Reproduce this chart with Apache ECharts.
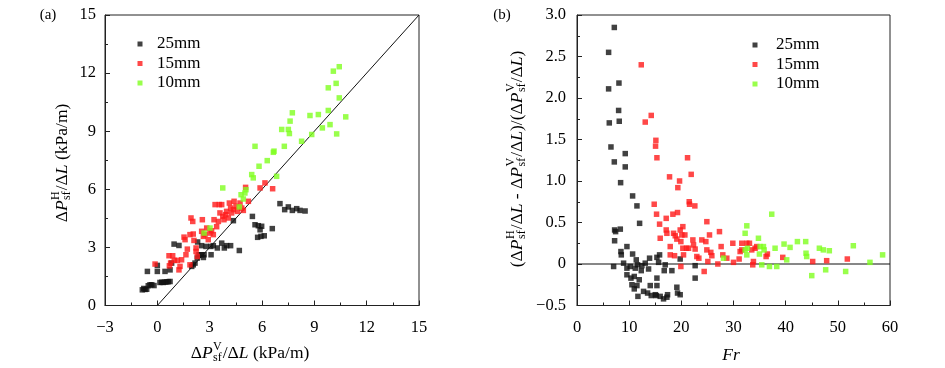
<!DOCTYPE html>
<html><head><meta charset="utf-8">
<script src="https://cdn.jsdelivr.net/npm/echarts@6/dist/echarts.min.js"></script>
<style>html,body{margin:0;padding:0;background:#fff}#c{width:945px;height:368px}</style>
</head><body><div id="c"></div>
<script>
// ---- Data ----
const seriesNames = ['25mm', '15mm', '10mm'];
const ticksA = { xMin: -3, xMax: 15, xStep: 3, yMin: 0, yMax: 15, yStep: 3 };
const ticksB = { xMin: 0, xMax: 60, xStep: 10, yMin: -0.5, yMax: 3.0, yStep: 0.5 };
const diagLine = [[0, 0], [15, 15]];
const zeroLine = [[0, 0], [60, 0]];

const a25 = [[-0.86,0.81],[-0.78,0.88],[-0.7,0.83],[-0.61,0.84],[-0.52,1.02],[-0.42,1.07],[-0.32,1.07],[-0.19,1.03],[0.15,1.19],[0.25,1.2],[0.34,1.19],[0.44,1.21],[0.54,1.22],[0.63,1.23],[0.73,1.24],[-0.57,1.76],[0,1.76],[0,2.07],[0.44,1.76],[0.73,1.84],[0.82,2.19],[0.96,3.17],[1.24,3.10],[1.97,2.02],[2.06,2.10],[2.16,2.19],[2.29,2.45],[2.39,2.62],[2.54,2.62],[2.64,2.48],[2.68,2.62],[2.31,3.28],[2.54,3.09],[2.79,3.05],[3.06,3.05],[3.08,2.62],[3.21,3.09],[3.44,2.97],[3.69,3.22],[3.84,2.97],[3.97,3.09],[4.20,3.09],[4.36,4.38],[4.70,2.84],[5.45,4.60],[5.60,4.17],[5.79,4.12],[5.89,3.91],[5.98,4.09],[5.75,3.52],[5.94,3.57],[6.13,3.60],[6.59,3.97],[7.03,5.26],[7.30,4.95],[7.51,5.09],[7.74,4.91],[7.99,5.00],[8.18,4.91],[8.47,4.88]];
const a15 = [[-0.13,2.14],[0.67,2.57],[0.88,2.57],[0.76,2.19],[0.69,2.05],[0.97,2.33],[1.15,2.33],[1.24,1.84],[1.30,2.02],[1.39,2.36],[1.53,3.53],[1.59,3.40],[1.64,2.62],[1.72,2.91],[1.87,2.10],[1.93,4.52],[2.03,4.34],[1.87,3.66],[2.06,3.69],[2.10,3.36],[2.22,2.79],[2.22,2.97],[2.29,2.53],[2.54,3.83],[2.58,4.43],[2.64,3.57],[2.73,3.66],[2.83,4.00],[2.92,3.40],[3.02,3.74],[3.11,3.86],[3.21,3.66],[3.25,4.43],[3.31,5.21],[3.40,4.07],[3.50,4.34],[3.55,5.21],[3.69,5.21],[3.59,4.78],[3.75,4.60],[3.82,4.43],[3.92,4.69],[3.97,4.86],[4.07,4.52],[4.13,5.29],[4.20,5.03],[4.26,4.78],[4.40,5.38],[4.36,4.95],[4.51,5.12],[4.59,4.86],[4.74,5.29],[4.84,5.03],[4.93,4.91],[5.06,6.10],[5.22,5.38],[5.89,6.07],[6.17,6.33],[6.61,6.03]];
const a10 = [[2.68,3.74],[3.02,4.00],[3.75,6.07],[4.70,5.09],[4.80,5.72],[4.93,5.50],[5.02,5.81],[5.08,5.98],[5.41,6.76],[5.50,6.59],[5.60,8.22],[5.83,7.19],[6.30,7.48],[6.65,7.91],[6.69,7.97],[6.84,6.67],[7.13,9.09],[7.28,8.22],[7.51,9.09],[7.57,8.88],[7.61,9.52],[7.74,9.95],[8.27,8.48],[8.75,9.81],[8.85,8.83],[9.23,9.86],[9.46,9.17],[9.80,10.07],[9.80,11.24],[9.90,9.34],[10.09,12.10],[10.25,11.47],[10.28,8.86],[10.43,12.33],[10.43,10.72],[10.80,9.74]];

const b25 = [[7.15,2.85],[6.06,2.55],[6.06,2.11],[8.04,2.18],[6.19,1.70],[7.98,1.85],[8.10,1.72],[6.51,1.41],[7.15,1.23],[9.25,1.33],[9.25,1.17],[8.36,0.98],[10.66,0.82],[11.49,0.70],[12.0,0.49],[7.21,0.41],[7.40,0.39],[8.30,0.42],[7.21,0.28],[8.42,0.15],[8.49,0.11],[9.57,0.21],[10.66,0.12],[7.02,-0.03],[8.93,0.01],[9.57,-0.05],[9.57,-0.13],[10.21,-0.03],[10.34,-0.17],[10.53,-0.25],[10.98,-0.15],[11.17,-0.05],[11.36,0.05],[11.61,-0.01],[11.93,-0.19],[11.49,-0.26],[10.98,-0.30],[11.68,-0.39],[12.32,-0.08],[12.44,-0.02],[12.76,-0.33],[13.08,0.01],[13.53,-0.35],[13.72,-0.06],[13.91,0.07],[14.04,-0.26],[14.23,-0.38],[15.0,-0.37],[15.32,-0.17],[15.32,-0.26],[15.19,-0.38],[15.32,0.08],[15.64,0.02],[15.83,0.11],[15.95,-0.39],[16.59,-0.42],[17.23,-0.40],[17.36,-0.37],[16.72,-0.08],[16.91,-0.01],[18.19,-0.08],[19.14,-0.28],[19.27,-0.35],[19.78,-0.37],[19.78,0.06],[22.65,-0.02],[22.65,-0.17]];
const b15 = [[12.32,2.40],[13.08,1.71],[14.23,1.79],[15.12,1.49],[15.06,1.42],[15.32,1.28],[14.80,0.72],[15.25,0.60],[15.83,0.48],[15.95,0.31],[17.10,0.55],[17.10,0.41],[17.23,0.37],[17.74,1.05],[17.87,0.21],[17.87,0.11],[18.38,0.60],[18.51,0.37],[18.83,0.34],[18.70,0.10],[19.14,0.30],[19.27,0.62],[19.33,0.92],[19.66,1.00],[19.78,0.41],[19.91,0.27],[20.10,0.35],[20.29,0.45],[20.29,0.19],[20.42,0.11],[19.91,-0.03],[20.68,0.35],[21.19,1.28],[21.51,0.75],[21.57,0.72],[20.99,0.19],[21.38,0.19],[21.89,1.08],[22.21,0.29],[22.34,0.23],[22.59,0.70],[22.65,0.18],[22.97,0.09],[23.36,0.07],[23.93,0.29],[24.38,-0.09],[24.70,0.27],[24.89,0.51],[24.89,0.17],[25.08,0.03],[25.40,0.35],[25.65,0.14],[25.85,0.10],[27.0,0.0],[27.31,0.39],[27.63,0.21],[27.95,0.11],[28.72,0.07],[29.87,0.25],[30.0,0.02],[31.08,0.06],[31.27,0.15],[31.59,0.25],[31.59,0.17],[32.55,0.25],[33.06,0.25],[33.50,0.17],[33.69,-0.01],[33.82,0.03],[34.14,0.19],[34.46,0.21],[36.25,0.09],[36.50,0.12],[39.44,0.08],[45.18,0.03],[47.86,0.04],[51.82,0.06]];
const b10 = [[28.08,0.07],[32.23,0.37],[32.55,0.46],[32.23,0.17],[32.55,0.11],[32.67,0.19],[34.78,0.31],[35.10,0.21],[34.97,0.12],[35.42,-0.01],[35.74,0.21],[35.87,0.17],[36.89,-0.03],[37.33,0.60],[37.97,0.19],[38.29,-0.03],[39.69,0.24],[40.20,0.05],[40.84,0.20],[42.25,0.27],[43.84,0.27],[43.90,0.13],[44.03,0.09],[45.0,-0.14],[46.46,0.19],[47.22,0.17],[47.67,-0.07],[48.37,0.16],[51.50,-0.09],[52.97,0.22],[56.16,0.02],[58.58,0.11]];

// ---- Style ----
const FF = '"Liberation Serif","DejaVu Serif",serif';
const colors = ['#111111', '#ff1a1a', '#7fff1f'];
const SYM = 5.5;

const measureCtx = document.createElement('canvas').getContext('2d');
function fnt(size, italic) { return (italic ? 'italic ' : '') + size + 'px ' + FF; }
function buildLabel(parts, cx, cy, rot, fs) {
  const ss = Math.round(fs * 0.68);
  let x = 0; const kids = [];
  parts.forEach(p => {
    if (p.sup !== undefined) {
      const f = fnt(ss, false); measureCtx.font = f;
      const w = Math.max(measureCtx.measureText(p.sup).width, measureCtx.measureText(p.sub).width);
      kids.push({ type: 'text', x: x + 0.5, y: -fs * 0.38, style: { text: p.sup, font: f, fill: '#000', textVerticalAlign: 'middle', verticalAlign: 'middle', textAlign: 'left', align: 'left' } });
      kids.push({ type: 'text', x: x + 0.5, y: fs * 0.3, style: { text: p.sub, font: f, fill: '#000', textVerticalAlign: 'middle', verticalAlign: 'middle', textAlign: 'left', align: 'left' } });
      x += w + 1.5;
    } else {
      const f = fnt(fs, p.i); measureCtx.font = f;
      const w = measureCtx.measureText(p.t).width;
      kids.push({ type: 'text', x: x, y: 0, style: { text: p.t, font: f, fill: '#000', textVerticalAlign: 'middle', verticalAlign: 'middle', textAlign: 'left', align: 'left' } });
      x += w;
    }
  });
  kids.forEach(k => { k.x -= x / 2; });
  return { type: 'group', x: cx, y: cy, rotation: rot, silent: true, children: kids };
}

const labAy = [{ t: 'Δ' }, { t: 'P', i: true }, { sup: 'H', sub: 'sf' }, { t: '/Δ' }, { t: 'L', i: true }, { t: ' (kPa/m)' }];
const labAx = [{ t: 'Δ' }, { t: 'P', i: true }, { sup: 'V', sub: 'sf' }, { t: '/Δ' }, { t: 'L', i: true }, { t: ' (kPa/m)' }];
const labBy = [{ t: '(Δ' }, { t: 'P', i: true }, { sup: 'H', sub: 'sf' }, { t: '/Δ' }, { t: 'L', i: true }, { t: ' - Δ' }, { t: 'P', i: true }, { sup: 'V', sub: 'sf' }, { t: '/Δ' }, { t: 'L', i: true }, { t: ')/(Δ' }, { t: 'P', i: true }, { sup: 'V', sub: 'sf' }, { t: '/Δ' }, { t: 'L', i: true }, { t: ')' }];
const labBx = [{ t: 'Fr', i: true }];

function minusFmt(dec) {
  return v => {
    let s = (dec && v !== 0) ? v.toFixed(dec) : String(Math.round(v * 100) / 100);
    return s.replace('-', '−');
  };
}
function axisCommon(gi, t, isX, dec, margin) {
  return {
    type: 'value', gridIndex: gi,
    min: isX ? t.xMin : t.yMin, max: isX ? t.xMax : t.yMax, interval: isX ? t.xStep : t.yStep,
    axisLine: { show: true, onZero: false, lineStyle: { color: '#222', width: 1 } },
    axisTick: { show: true, inside: true, length: 5, lineStyle: { color: '#222', width: 1 } },
    minorTick: { show: true, splitNumber: 2, length: 3, lineStyle: { color: '#222', width: 1 } },
    splitLine: { show: false },
    axisLabel: { color: '#000', fontFamily: FF, fontSize: 16.5, margin: margin, formatter: minusFmt(dec) }
  };
}

const chart = echarts.init(document.getElementById('c'), null, { renderer: 'canvas' });
function scat(name, data, gi, ci) {
  return { name: name, type: 'scatter', xAxisIndex: gi, yAxisIndex: gi, data: data, symbol: 'rect', symbolSize: SYM, itemStyle: { color: colors[ci] }, z: 3 };
}
function legendAt(left, top, pad) {
  return { orient: 'vertical', left: left, top: top, padding: 0, itemWidth: 5, itemHeight: 5, itemGap: 2.5, icon: 'rect', data: seriesNames,
    textStyle: { fontFamily: FF, fontSize: 17, color: '#000', lineHeight: 17, padding: [0, 0, 0, pad] }, selectedMode: false };
}
chart.setOption({
  animation: false,
  grid: [
    { left: 105, top: 15, width: 314, height: 290.5, show: true, borderColor: '#222', borderWidth: 1, backgroundColor: 'transparent' },
    { left: 577, top: 15, width: 313, height: 290.5, show: true, borderColor: '#222', borderWidth: 1, backgroundColor: 'transparent' }
  ],
  xAxis: [axisCommon(0, ticksA, true, 0, 13.5), axisCommon(1, ticksB, true, 0, 13.5)],
  yAxis: [axisCommon(0, ticksA, false, 0, 9), axisCommon(1, ticksB, false, 1, 11)],
  legend: [legendAt(137.5, 35.5, 9.5), legendAt(752.5, 36.5, 13.5)],
  series: [
    { name: 'diag', type: 'line', xAxisIndex: 0, yAxisIndex: 0, data: diagLine, showSymbol: false, symbol: 'none', lineStyle: { color: '#111', width: 1 }, z: 2, silent: true },
    { name: 'zero', type: 'line', xAxisIndex: 1, yAxisIndex: 1, data: zeroLine, showSymbol: false, symbol: 'none', lineStyle: { color: '#111', width: 1.2 }, z: 2, silent: true },
    scat('25mm', a25, 0, 0), scat('15mm', a15, 0, 1), scat('10mm', a10, 0, 2),
    scat('25mm', b25, 1, 0), scat('15mm', b15, 1, 1), scat('10mm', b10, 1, 2)
  ],
  graphic: [
    { type: 'text', x: 48, y: 15, style: { text: '(a)', font: fnt(15, false), fill: '#000', textAlign: 'center', align: 'center', textVerticalAlign: 'middle', verticalAlign: 'middle' } },
    { type: 'text', x: 502, y: 15, style: { text: '(b)', font: fnt(15, false), fill: '#000', textAlign: 'center', align: 'center', textVerticalAlign: 'middle', verticalAlign: 'middle' } },
    buildLabel(labAy, 62, 163, Math.PI / 2, 17.5),
    buildLabel(labAx, 250, 353, 0, 17.5),
    buildLabel(labBy, 517, 159, Math.PI / 2, 17.5),
    buildLabel(labBx, 731, 355, 0, 17.5)
  ]
});
</script></body></html>
